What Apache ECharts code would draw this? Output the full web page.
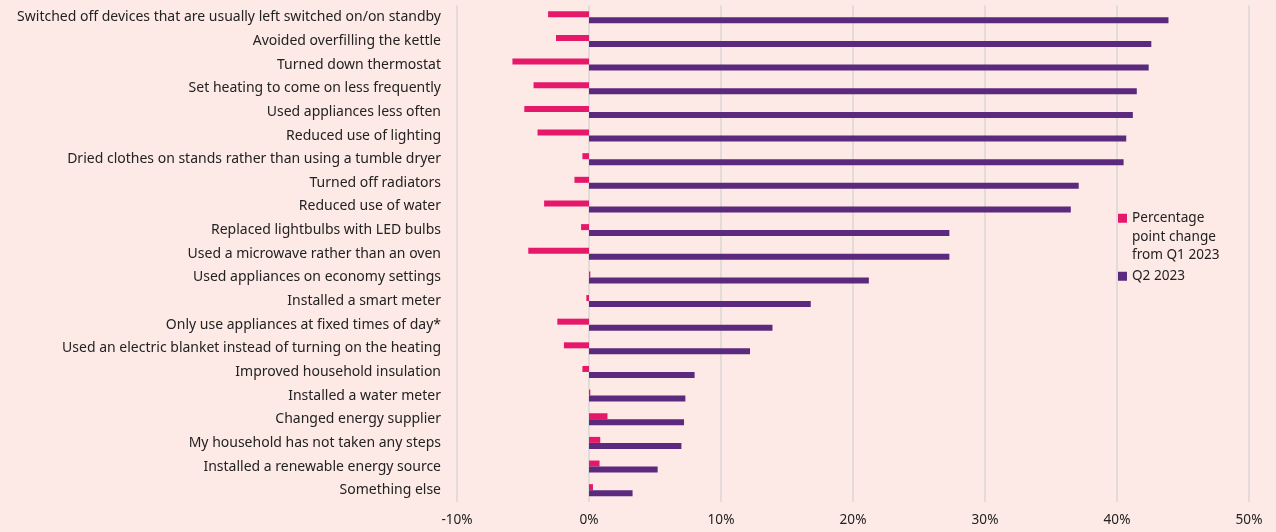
<!DOCTYPE html>
<html>
<head>
<meta charset="utf-8">
<script src="https://cdn.jsdelivr.net/npm/echarts@6/dist/echarts.min.js"></script>
<style>
  html, body { margin: 0; padding: 0; background: #fdeae6; }
  #chart { width: 1276px; height: 532px; }
</style>
</head>
<body>
<div id="chart"></div>
<script>
const categories = [
  'Switched off devices that are usually left switched on/on standby',
  'Avoided overfilling the kettle',
  'Turned down thermostat',
  'Set heating to come on less frequently',
  'Used appliances less often',
  'Reduced use of lighting',
  'Dried clothes on stands rather than using a tumble dryer',
  'Turned off radiators',
  'Reduced use of water',
  'Replaced lightbulbs with LED bulbs',
  'Used a microwave rather than an oven',
  'Used appliances on economy settings',
  'Installed a smart meter',
  'Only use appliances at fixed times of day*',
  'Used an electric blanket instead of turning on the heating',
  'Improved household insulation',
  'Installed a water meter',
  'Changed energy supplier',
  'My household has not taken any steps',
  'Installed a renewable energy source',
  'Something else'
]
const changeFromQ1 = [-3.1, -2.5, -5.8, -4.2, -4.9, -3.9, -0.5, -1.1, -3.4, -0.6, -4.6,
  0.1, -0.2, -2.4, -1.9, -0.5, 0.1, 1.4, 0.85, 0.8, 0.3]
const q2_2023 = [43.9, 42.6, 42.4, 41.5, 41.2, 40.7, 40.5, 37.1, 36.5, 27.3, 27.3,
  21.2, 16.8, 13.9, 12.2, 8.0, 7.3, 7.2, 7.0, 5.2, 3.3]

const CHANGE_NAME = 'Percentage point change from Q1 2023'
const Q2_NAME = 'Q2 2023'
const font = 'Noto Sans'
const textColor = '#222222'

const chart = echarts.init(document.getElementById('chart'))
chart.setOption({
  backgroundColor: '#fdeae6',
  animation: false,
  textStyle: { fontFamily: font },
  grid: { left: 457, right: 27, top: 5.5, bottom: 30, containLabel: false },
  legend: [
    {
      data: [CHANGE_NAME],
      orient: 'vertical',
      left: 1118,
      top: 172,
      padding: 0,
      itemWidth: 9,
      itemHeight: 9,
      icon: 'rect',
      formatter: () => '\n\nPercentage\npoint change\nfrom Q1 2023',
      textStyle: { fontFamily: font, fontSize: 13.6, color: textColor, lineHeight: 18.5 }
    },
    {
      data: [Q2_NAME],
      orient: 'vertical',
      left: 1118,
      top: 267,
      padding: 0,
      itemWidth: 9,
      itemHeight: 9,
      icon: 'rect',
      textStyle: { fontFamily: font, fontSize: 13.6, color: textColor, lineHeight: 18.5 }
    }
  ],
  xAxis: {
    type: 'value',
    min: -10,
    max: 50,
    interval: 10,
    axisLine: { show: false },
    axisTick: { show: false },
    axisLabel: { formatter: '{value}%', color: textColor, fontSize: 13.6, fontFamily: font, margin: 11 },
    splitLine: { lineStyle: { color: '#d9d6d6', width: 1.5 } }
  },
  yAxis: {
    type: 'category',
    inverse: true,
    data: categories,
    axisLine: { show: false },
    axisTick: { show: false },
    axisLabel: { color: textColor, fontSize: 14, fontFamily: font, margin: 16 }
  },
  series: [
    {
      name: CHANGE_NAME,
      type: 'bar',
      data: changeFromQ1,
      barWidth: 6,
      barGap: '0%',
      itemStyle: { color: '#e5186a' }
    },
    {
      name: Q2_NAME,
      type: 'bar',
      data: q2_2023,
      barWidth: 6,
      itemStyle: { color: '#5b297d' }
    }
  ]
})
</script>
</body>
</html>
